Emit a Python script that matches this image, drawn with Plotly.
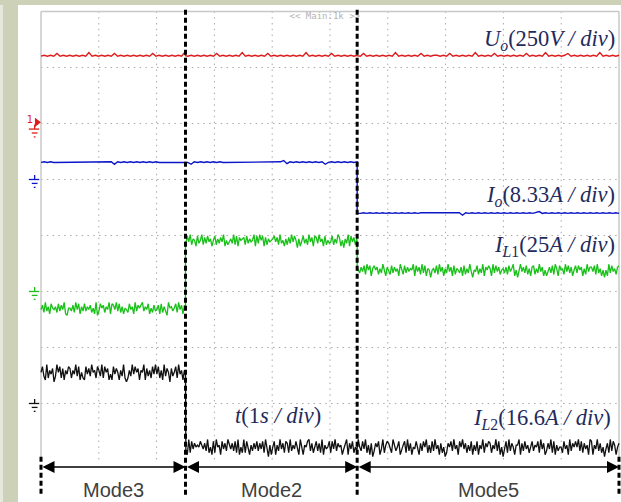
import numpy as np
import plotly.graph_objects as go

# ---------------- data (screen divisions; 1 s/div horizontally) ----------------
t_edges = [0.0, 2.5, 5.47, 10.0]          # mode boundaries (div)
modes = ["Mode3", "Mode2", "Mode5"]

# trace levels per mode segment (vertical divisions from grid bottom)
uo_levels = [7.21, 7.21, 7.21]
io_levels = [5.31, 5.31, 4.40]
il1_levels = [2.69, 3.90, 3.37]
il2_levels = [1.54, 0.205, 0.205]

ground_levels = [6, 5, 3, 1]               # channel ground markers (red, blue, green, black)

# ripple, one digit per sample (4.5 = no deviation)
uo_ripple = ("4545474545454548454545474545454545474545454548454545454745454548"
             "454545474545454545484545454745454545474545454548454545474545"
             "5454745454548454547454545454745454845454574545454548454545")
io_ripple = ("4545445455454544545454515454545454545445454545415454545454454545"
             "454545454545725454545454514545454545454545454545454545455454"
             "4545454515454545454545454545454574545454545454545454545454")
il1_ripple = ("4729361854628374910553729481638364725190385726491874938261542846193757"
              "9364815273471826309563582947173849265183592738461582637491524639281756"
              "7283645918395817264568472935162739485061583629471873946182534826397150"
              "6391847265374829581685726394175283746195"
              "2837465918472938165056382947163947182653718263940548263917586193847256"
              "37284691505947382617826394715147382961856294837158385716294774829361505193846278")
il2_ripple = ("5831926470395827164872649381521847395628639285714184751639202639485716"
              "5917362849482619375073582946163192847565864739251829561847396473829152"
              "9285163748374829506158163947287293648519416589372583729164582849375614"
              "6917482539538492617037581492687429635814"
              "6829371548417385926283946172502758394618594726381638164927587264938150"
              "48293751669173846258365829471374928163552846193758593827461981649372504729386157")

labels = [
    ("<i>U</i><sub><i>o</i></sub>(250<i>V / div</i>)", 9.97, 7.49, "right"),
    ("<i>I</i><sub><i>o</i></sub>(8.33<i>A / div</i>)", 9.97, 4.70, "right"),
    ("<i>I</i><sub><i>L</i>1</sub>(25<i>A / div</i>)", 9.97, 3.82, "right"),
    ("<i>t</i>(1<i>s / div</i>)", 4.10, 0.78, "center"),
    ("<i>I</i><sub><i>L</i>2</sub>(16.6<i>A / div</i>)", 9.90, 0.72, "right"),
]

colors = {"uo": "#DD1C1C", "io": "#0C16C8", "il1": "#18C018", "il2": "#111111"}


def build(levels, ripple, unit):
    n = len(ripple)
    xs = np.linspace(t_edges[0], t_edges[-1], n)
    offs = [(int(c) - 4.5) * unit for c in ripple]
    X, Y = [], []
    for j in range(len(levels)):
        a, b = t_edges[j], t_edges[j + 1]
        for x, o in zip(xs, offs):
            if a <= x < b or (j == len(levels) - 1 and x == b):
                X.append(float(x))
                Y.append(levels[j] + o)
        if j < len(levels) - 1:
            X.append(b); Y.append(levels[j])
            X.append(b); Y.append(levels[j + 1])
    return X, Y


fig = go.Figure()

for key, lv, rp, unit, w in [("uo", uo_levels, uo_ripple, 0.016, 1.4),
                             ("io", io_levels, io_ripple, 0.011, 1.4),
                             ("il1", il1_levels, il1_ripple, 0.026, 1.3),
                             ("il2", il2_levels, il2_ripple, 0.034, 1.3)]:
    X, Y = build(lv, rp, unit)
    fig.add_trace(go.Scatter(x=X, y=Y, mode="lines",
                             line=dict(color=colors[key], width=w),
                             hoverinfo="skip"))

# header text of the scope
fig.add_trace(go.Scatter(x=[4.91], y=[7.90], mode="text", text=["<< Main:1k >>"],
                         textfont=dict(family="DejaVu Sans Mono", size=9, color="#B4B4B4"),
                         hoverinfo="skip"))

shapes = []
# white screen area, olive frame from paper colour
shapes.append(dict(type="rect", xref="paper", yref="paper", x0=18 / 621, x1=1, y0=0,
                   y1=(502 - 5) / 502, fillcolor="white", line=dict(width=0), layer="below"))
shapes.append(dict(type="rect", xref="paper", yref="paper", x0=0, x1=3 / 621, y0=0,
                   y1=(502 - 5) / 502, fillcolor="#E6E8DC", line=dict(width=0), layer="below"))

grid_col = "#A8A8A8"
for k in range(1, 8):
    shapes.append(dict(type="line", xref="x", yref="y", x0=0, x1=10, y0=k, y1=k,
                       line=dict(color=grid_col, width=1, dash="1.5px,4.3px"), layer="below"))
for k in range(1, 10):
    shapes.append(dict(type="line", xref="x", yref="y", x0=k, x1=k, y0=0, y1=8,
                       line=dict(color=grid_col, width=1, dash="1.5px,4.3px"), layer="below"))
# border
border = "#C8C8C8"
shapes.append(dict(type="line", xref="x", yref="y", x0=0, x1=0, y0=0, y1=8,
                   line=dict(color=border, width=1.5), layer="below"))
shapes.append(dict(type="line", xref="x", yref="y", x0=0, x1=10, y0=8, y1=8,
                   line=dict(color=border, width=1.5), layer="below"))
shapes.append(dict(type="line", xref="x", yref="y", x0=10, x1=10, y0=0, y1=8,
                   line=dict(color=border, width=1.5), layer="below"))

# ground markers
gcols = [colors["uo"], colors["io"], colors["il1"], colors["il2"]]
for g, c in zip(ground_levels, gcols):
    base = g - 0.1 if c == colors["uo"] else g
    shapes.append(dict(type="line", xref="x", yref="y", x0=-0.11, x1=-0.11, y0=base, y1=base + 0.08,
                       line=dict(color=c, width=1.3)))
    shapes.append(dict(type="line", xref="x", yref="y", x0=-0.21, x1=-0.03, y0=base, y1=base,
                       line=dict(color=c, width=1.3)))
    shapes.append(dict(type="line", xref="x", yref="y", x0=-0.16, x1=-0.06, y0=base - 0.07, y1=base - 0.07,
                       line=dict(color=c, width=1.3)))
    shapes.append(dict(type="line", xref="x", yref="y", x0=-0.125, x1=-0.095, y0=base - 0.14, y1=base - 0.14,
                       line=dict(color=c, width=1.3)))
fig.add_trace(go.Scatter(x=[-0.07], y=[ground_levels[0] + 0.02], mode="markers",
                         marker=dict(symbol="triangle-right", size=8, color=colors["uo"]),
                         hoverinfo="skip"))
fig.add_trace(go.Scatter(x=[-0.19], y=[ground_levels[0] + 0.05], mode="text", text=["1"],
                         textfont=dict(family="DejaVu Sans", size=10, color=colors["uo"]),
                         hoverinfo="skip"))

# mode boundary dashed lines
for tb in t_edges[1:-1]:
    shapes.append(dict(type="line", xref="x", yref="y", x0=tb, x1=tb, y0=8.03, y1=-0.66,
                       line=dict(color="black", width=3, dash="5px,3px"), layer="above"))
for tb in [t_edges[0], t_edges[-1]]:
    shapes.append(dict(type="line", xref="x", yref="y", x0=tb, x1=tb, y0=0.05, y1=-0.66,
                       line=dict(color="black", width=3, dash="5px,3px"), layer="above"))

annotations = []
for txt, x, y, anc in labels:
    annotations.append(dict(x=x, y=y, xref="x", yref="y", text=txt, showarrow=False,
                            xanchor=anc, yanchor="middle",
                            font=dict(family="Liberation Serif", size=22.5, color="#1E2B5C")))

arrow_y = -0.134
for j, m in enumerate(modes):
    a, b = t_edges[j], t_edges[j + 1]
    annotations.append(dict(x=b, y=arrow_y, ax=a, ay=arrow_y, xref="x", yref="y",
                            axref="x", ayref="y", text="", showarrow=True,
                            arrowhead=2, arrowside="end+start", arrowsize=1.6,
                            arrowwidth=1.5, arrowcolor="black", standoff=0, startstandoff=0))
    annotations.append(dict(x=(a + b) / 2, y=-0.55, xref="x", yref="y", text=m,
                            showarrow=False, xanchor="center", yanchor="middle",
                            font=dict(family="Liberation Sans", size=20, color="#404040")))

fig.update_layout(
    width=621, height=502,
    margin=dict(l=0, r=0, t=0, b=0, pad=0),
    paper_bgcolor="#CDD1B8",
    plot_bgcolor="rgba(0,0,0,0)",
    showlegend=False,
    xaxis=dict(range=[-0.7093, 10.0346], visible=False, fixedrange=True),
    yaxis=dict(range=[-0.759, 8.205], visible=False, fixedrange=True),
    shapes=shapes,
    annotations=annotations,
)

fig.write_html("out.html")
